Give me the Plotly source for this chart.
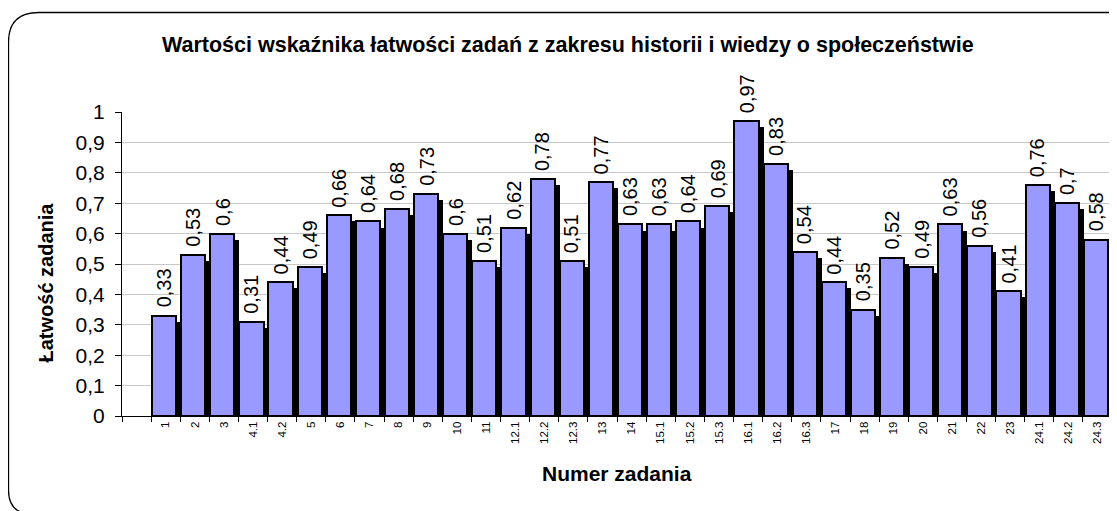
import plotly.graph_objects as go

# ---- data ----
categories = ["1", "2", "3", "4.1", "4.2", "5", "6", "7", "8", "9", "10", "11",
              "12.1", "12.2", "12.3", "13", "14", "15.1", "15.2", "15.3",
              "16.1", "16.2", "16.3", "17", "18", "19", "20", "21", "22", "23",
              "24.1", "24.2", "24.3"]
values = [0.33, 0.53, 0.6, 0.31, 0.44, 0.49, 0.66, 0.64, 0.68, 0.73, 0.6, 0.51,
          0.62, 0.78, 0.51, 0.77, 0.63, 0.63, 0.64, 0.69, 0.97, 0.83, 0.54,
          0.44, 0.35, 0.52, 0.49, 0.63, 0.56, 0.41, 0.76, 0.7, 0.58]
y_ticks = [0, 0.1, 0.2, 0.3, 0.4, 0.5, 0.6, 0.7, 0.8, 0.9, 1]
y_ticktext = ["0", "0,1", "0,2", "0,3", "0,4", "0,5", "0,6", "0,7", "0,8", "0,9", "1"]
grid_vals = [0.1, 0.2, 0.3, 0.4, 0.5, 0.6, 0.7, 0.8, 0.9]

title = "Wartości wskaźnika łatwości zadań z zakresu historii i wiedzy o społeczeństwie"
x_title = "Numer zadania"
y_title = "Łatwość zadania"

FONT = "Arial, 'Liberation Sans', sans-serif"
OFF = 8  # page body margin
W, H = 1117 - OFF, 511 - OFF
L, T, B = 122 - OFF, 112 - OFF, 95
PW, PH = W - L, H - T - B

def px(x):
    return (x - OFF - L) / PW

def py(y):
    return (H - B - (y - OFF)) / PH

# leading empty category slot
cat_all = [" "] + categories
labels = [str(v).replace(".", ",") for v in values]
shadow_drop = 0.02

fig = go.Figure()
fig.add_trace(go.Bar(
    x=categories, y=[v - shadow_drop for v in values],
    offset=-0.30, width=0.83,
    marker=dict(color="black", line=dict(width=0)),
    hoverinfo="skip", showlegend=False,
))
fig.add_trace(go.Bar(
    x=categories, y=values,
    offset=-0.47, width=0.83,
    marker=dict(color="#9999FF", line=dict(color="black", width=2)),
    showlegend=False, cliponaxis=False,
))
# grid-only overlay axis
fig.add_trace(go.Scatter(x=[categories[0]], y=[0], yaxis="y2", mode="markers",
                         marker=dict(opacity=0), hoverinfo="skip", showlegend=False))

annotations = [
    dict(text=lab, x=cat_all.index(cat), y=val, xref="x", yref="y", showarrow=False,
         textangle=-90, xanchor="center", yanchor="bottom", xshift=-1.5, yshift=6,
         font=dict(family=FONT, size=20, color="black"))
    for cat, val, lab in zip(categories, values, labels)
]
annotations += [
    dict(text="<b>" + title + "</b>", xref="paper", yref="paper",
         x=px(568), y=py(45), xanchor="center", yanchor="middle", showarrow=False,
         font=dict(family=FONT, size=21.5, color="black")),
    dict(text="<b>" + x_title + "</b>", xref="paper", yref="paper",
         x=px(617), y=py(473), xanchor="center", yanchor="middle", showarrow=False,
         font=dict(family=FONT, size=21, color="black")),
    dict(text="<b>" + y_title + "</b>", xref="paper", yref="paper",
         x=px(45.5), y=py(283), xanchor="center", yanchor="middle", showarrow=False,
         textangle=-90, font=dict(family=FONT, size=20, color="black")),
]

n_slots = PW / 29.12
fig.update_layout(
    width=W, height=H,
    margin=dict(l=L, r=0, t=T, b=B),
    paper_bgcolor="white", plot_bgcolor="white",
    barmode="overlay", bargap=0,
    font=dict(family=FONT, color="black"),
    xaxis=dict(type="category", categoryorder="array", categoryarray=cat_all,
               range=[-0.5, -0.5 + n_slots], tickson="boundaries",
               ticks="outside", ticklen=5, tickcolor="black",
               showline=True, linecolor="black", linewidth=1,
               showgrid=False, tickangle=-90,
               tickfont=dict(family=FONT, size=11.5, color="black")),
    yaxis=dict(range=[0, 1], tickvals=y_ticks, ticktext=y_ticktext,
               ticks="outside", ticklen=6, tickcolor="black",
               showline=True, linecolor="black", linewidth=1,
               showgrid=False, zeroline=False, ticklabelstandoff=6,
               tickfont=dict(family=FONT, size=21, color="black")),
    yaxis2=dict(overlaying="y", range=[0, 1], tickvals=grid_vals,
                showticklabels=False, ticks="", showgrid=True,
                gridcolor="#c8c8c8", gridwidth=1, zeroline=False, showline=False),
    annotations=annotations,
    shapes=[dict(
        type="path", xref="paper", yref="paper",
        path=(f"M {px(1135)} {py(12.5)} L {px(38.5)} {py(12.5)} "
              f"Q {px(8.5)} {py(12.5)} {px(8.5)} {py(42.5)} "
              f"L {px(8.5)} {py(490)} Q {px(8.5)} {py(514)} {px(32.5)} {py(514)} "
              f"L {px(1135)} {py(514)}"),
        line=dict(color="black", width=1.3), fillcolor="rgba(0,0,0,0)",
    )],
)

fig.write_html("out.html")
